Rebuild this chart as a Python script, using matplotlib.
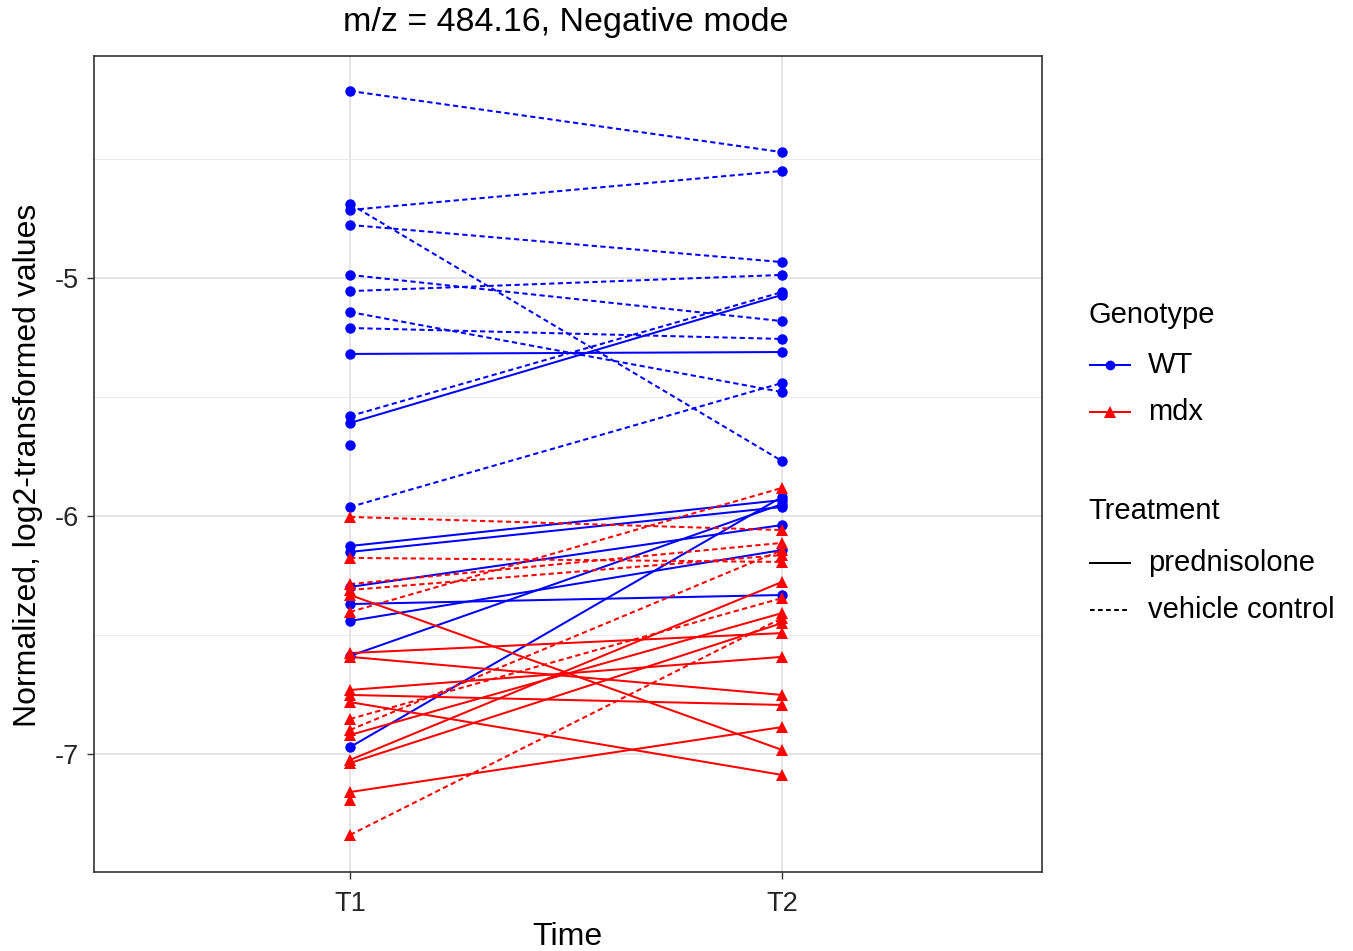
import numpy as np
import matplotlib
matplotlib.use("Agg")
import matplotlib.pyplot as plt
from matplotlib.lines import Line2D

plt.rcParams['font.family'] = ['Liberation Sans', 'DejaVu Sans']

# ---- data ----
time_labels = ["T1", "T2"]
title = "m/z = 484.16, Negative mode"

# WT (blue, circles); 'P' = prednisolone (solid), 'V' = vehicle control (dashed)
wt_t1 = [-4.214, -4.714, -4.689, -4.777, -4.987, -5.055, -5.143, -5.210, -5.319,
         -5.580, -5.609, -5.962, -5.702,
         -6.126, -6.151, -6.298, -6.370, -6.441, -6.588, -6.971]
wt_t2 = [-4.471, -4.550, -5.769, -4.933, -5.181, -4.987, -5.479, -5.256, -5.311,
         -5.059, -5.071, -5.441, np.nan,
         -5.933, -5.962, -6.038, -6.332, -6.143, -5.950, -5.920]
wt_trt = ['V', 'V', 'V', 'V', 'V', 'V', 'V', 'V', 'P',
          'V', 'P', 'V', 'V',
          'P', 'P', 'P', 'P', 'P', 'P', 'P']

# mdx (red, triangles)
mdx_t1 = [-6.004, -6.176, -6.403, -6.286, -6.311, -6.853, -6.899, -7.340,
          -6.332, -6.576, -6.592, -6.731, -6.752, -6.782, -6.920, -7.025,
          -7.038, -7.160, -7.193]
mdx_t2 = [-6.059, -6.193, -5.882, -6.113, -6.164, -6.345, -6.143, -6.429,
          -6.983, -6.492, -6.752, -6.592, -6.794, -7.088, -6.408, -6.277,
          -6.450, -6.887, np.nan]
mdx_trt = ['V', 'V', 'V', 'V', 'V', 'V', 'V', 'V',
           'P', 'P', 'P', 'P', 'P', 'P', 'P', 'P',
           'P', 'P', 'P']

yticks = [-7, -6, -5]
yminor = [-6.5, -5.5, -4.5]

# ---- figure ----
W, H = 1353, 951
fig = plt.figure(figsize=(W / 100, H / 100), dpi=100)
ax = fig.add_axes([94 / W, 1 - 872 / H, (1042 - 94) / W, (872 - 56) / H])

BLUE = "#0000FF"
RED = "#FF0000"
lw = 1.45
dash = (2.6, 1.7)

xs = [1, 2]

def draw_lines(t1, t2, trt, color):
    for a, b, t in zip(t1, t2, trt):
        if np.isnan(b):
            continue
        if t == 'P':
            ax.plot(xs, [a, b], color=color, lw=lw, solid_capstyle='butt', zorder=2)
        else:
            ax.plot(xs, [a, b], color=color, lw=lw, dashes=dash, zorder=2)

draw_lines(wt_t1, wt_t2, wt_trt, BLUE)
draw_lines(mdx_t1, mdx_t2, mdx_trt, RED)

ax.plot([1] * len(wt_t1), wt_t1, 'o', color=BLUE, ms=7.5, mew=0, zorder=3)
ax.plot([2] * len(wt_t2), wt_t2, 'o', color=BLUE, ms=7.5, mew=0, zorder=3)
ax.plot([1] * len(mdx_t1), mdx_t1, '^', color=RED, ms=9, mew=0, zorder=3)
ax.plot([2] * len(mdx_t2), mdx_t2, '^', color=RED, ms=9, mew=0, zorder=3)

ax.set_xlim(0.407, 2.602)
ax.set_ylim(-7.496, -4.067)
ax.set_xticks(xs)
ax.set_xticklabels(time_labels)
ax.set_yticks(yticks)
ax.set_yticklabels([str(v) for v in yticks])
ax.set_yticks(yminor, minor=True)

ax.grid(True, which='major', color='#DEDEDE', lw=1.1, zorder=0)
ax.grid(True, which='minor', axis='y', color='#EBEBEB', lw=0.7, zorder=0)
ax.set_axisbelow(True)
for s in ax.spines.values():
    s.set_color('#333333')
    s.set_linewidth(1.2)

ax.tick_params(axis='both', which='major', labelsize=19.5, colors='#333333',
               length=5, width=1.0, labelcolor='#262626')
ax.tick_params(axis='x', which='major', pad=9)
ax.tick_params(axis='y', which='major', pad=6)
ax.tick_params(axis='both', which='minor', length=0)

# ---- titles (figure coordinates) ----
def fx(px):
    return px / W

def fy(py):
    return 1 - py / H

fig.text(fx(566), fy(23), title, fontsize=24.5, ha='center', va='center')
fig.text(fx(567), fy(937), "Time", fontsize=23, ha='center', va='center')
fig.text(fx(28), fy(465), "Normalized, log2-transformed values", fontsize=23,
         ha='center', va='center', rotation=90)

# ---- legend (manual, figure coordinates) ----
LF = 21
fig.text(fx(1088), fy(315), "Genotype", fontsize=LF, va='center', ha='left')
for py, col, mk, lab, ms in [(365, BLUE, 'o', "WT", 7), (412, RED, '^', "mdx", 8.5)]:
    fig.add_artist(Line2D([fx(1090), fx(1130)], [fy(py), fy(py)], color=col, lw=lw,
                          transform=fig.transFigure))
    fig.add_artist(Line2D([fx(1110)], [fy(py)], marker=mk, color=col, ms=ms, mew=0,
                          transform=fig.transFigure))
    fig.text(fx(1148), fy(py), lab, fontsize=LF, va='center', ha='left')

fig.text(fx(1088), fy(511), "Treatment", fontsize=LF, va='center', ha='left')
fig.add_artist(Line2D([fx(1090), fx(1130)], [fy(563), fy(563)], color='black', lw=lw,
                      transform=fig.transFigure))
fig.text(fx(1148), fy(563), "prednisolone", fontsize=LF, va='center', ha='left')
fig.add_artist(Line2D([fx(1090), fx(1130)], [fy(610), fy(610)], color='black', lw=lw,
                      dashes=(2.3, 1.7), transform=fig.transFigure))
fig.text(fx(1148), fy(610), "vehicle control", fontsize=LF, va='center', ha='left')

fig.savefig("out.png", dpi=100)
